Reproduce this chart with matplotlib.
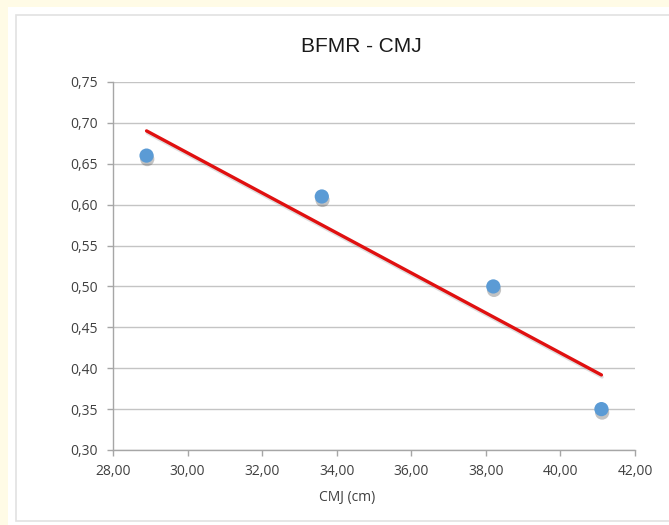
import numpy as np
import matplotlib
matplotlib.use("Agg")
import matplotlib.pyplot as plt
import matplotlib.patheffects as pe
from matplotlib.patches import Rectangle
from matplotlib.ticker import FuncFormatter

# CMJ jump height (cm) against BFMR
cmj = [28.9, 33.6, 38.2, 41.1]
bfmr = [0.66, 0.61, 0.50, 0.35]

x_ticks = [28, 30, 32, 34, 36, 38, 40, 42]
y_ticks = [0.30, 0.35, 0.40, 0.45, 0.50, 0.55, 0.60, 0.65, 0.70, 0.75]

W, H = 669, 525
fig = plt.figure(figsize=(W / 100, H / 100), dpi=100, facecolor="#fffbe6")

# white chart panel with a faint border, kept behind the axes
fig.patches.append(Rectangle((8 / W, 0), 1, 1 - 7 / H, transform=fig.transFigure,
                             facecolor="white", edgecolor="none", zorder=-2))
fig.patches.append(Rectangle((16 / W, 1 - 521 / H), 1, (521 - 15) / H, transform=fig.transFigure,
                             facecolor="white", edgecolor="#e2e2e2", lw=1.2, zorder=-1))

ax = fig.add_axes([113 / W, 1 - 450 / H, (635 - 113) / W, (450 - 82) / H])
ax.set_facecolor("none")

ax.set_xlim(28, 42)
ax.set_ylim(0.30, 0.75)
ax.set_xticks(x_ticks)
ax.set_yticks(y_ticks)
comma = FuncFormatter(lambda v, p: f"{v:.2f}".replace(".", ","))
ax.xaxis.set_major_formatter(comma)
ax.yaxis.set_major_formatter(comma)

ax.grid(axis="y", color="#c4c4c4", lw=1.0)
ax.set_axisbelow(True)
for s in ["top", "right"]:
    ax.spines[s].set_visible(False)
for s in ["left", "bottom"]:
    ax.spines[s].set_color("#a6a6a6")
    ax.spines[s].set_linewidth(1.0)
ax.tick_params(axis="both", colors="#a6a6a6", length=4, width=1.0, labelsize=10,
               labelcolor="#404040")
ax.tick_params(axis="x", pad=6)
ax.tick_params(axis="y", pad=7)
for lab in ax.get_xticklabels() + ax.get_yticklabels():
    lab.set_family("Open Sans")

# linear trend line over the data range
k, b = np.polyfit(cmj, bfmr, 1)
xs = np.array([min(cmj), max(cmj)])
ax.plot(xs, k * xs + b, color="#e01010", lw=2.4, solid_capstyle="round", zorder=3,
        path_effects=[pe.SimpleLineShadow(offset=(0.5, -1.5), shadow_color="gray", alpha=0.25),
                      pe.Normal()])

ax.scatter(cmj, bfmr, s=105, color="#5b9bd5", zorder=4, linewidths=0,
           path_effects=[pe.SimplePatchShadow(offset=(0.5, -2.5), shadow_rgbFace="#555555", alpha=0.35),
                         pe.Normal()])

fig.text(361 / W, 1 - 46 / H, "BFMR - CMJ", ha="center", va="center",
         fontsize=15, family="Liberation Sans", color="#1a1a1a")
fig.text(347 / W, 1 - 498 / H, "CMJ (cm)", ha="center", va="center",
         fontsize=10, family="Open Sans", color="#404040")

fig.savefig("out.png", dpi=100, facecolor=fig.get_facecolor())
